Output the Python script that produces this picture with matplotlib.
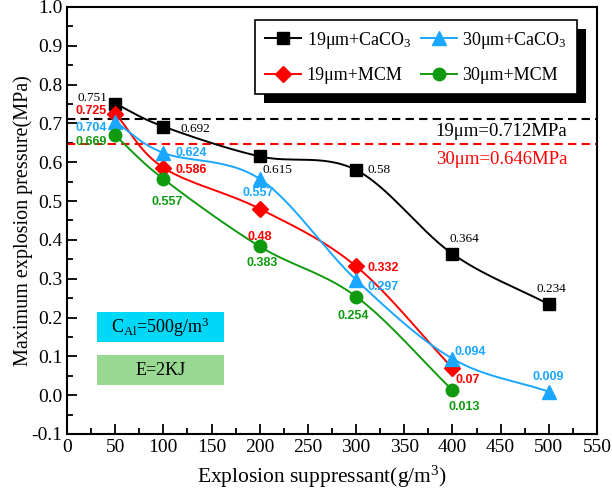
import matplotlib
matplotlib.use('Agg')
import matplotlib.pyplot as plt
from matplotlib.patches import Rectangle
from matplotlib.transforms import IdentityTransform
from matplotlib.ticker import MultipleLocator
import numpy as np

plt.rcParams['font.family'] = 'Liberation Serif'
plt.rcParams['mathtext.fontset'] = 'custom'
plt.rcParams['mathtext.rm'] = 'Liberation Serif'
plt.rcParams['mathtext.it'] = 'Liberation Serif:italic'

# datos
x_all = [50, 100, 200, 300, 400, 500]
x_mcm = [50, 100, 200, 300, 400]
ca19 = [0.751, 0.692, 0.615, 0.58, 0.364, 0.234]
ca30 = [0.704, 0.624, 0.557, 0.297, 0.094, 0.009]
mcm19 = [0.725, 0.586, 0.48, 0.332, 0.07]
mcm30 = [0.669, 0.557, 0.383, 0.254, 0.013]
ref19 = 0.712
ref30 = 0.646

black = '#000000'
red = '#ff0000'
blue = '#1aa7ff'
green = '#109a10'


def smooth(xs, ys, n=30):
    # curva Catmull-Rom que pasa por los puntos
    xs = np.asarray(xs, float)
    ys = np.asarray(ys, float)
    px = np.concatenate([[2 * xs[0] - xs[1]], xs, [2 * xs[-1] - xs[-2]]])
    py = np.concatenate([[2 * ys[0] - ys[1]], ys, [2 * ys[-1] - ys[-2]]])
    t = np.linspace(0, 1, n)
    ox, oy = [], []
    for i in range(1, len(px) - 2):
        for p, out in ((px, ox), (py, oy)):
            p0, p1, p2, p3 = p[i - 1], p[i], p[i + 1], p[i + 2]
            out.extend(0.5 * (2 * p1 + (-p0 + p2) * t
                              + (2 * p0 - 5 * p1 + 4 * p2 - p3) * t ** 2
                              + (-p0 + 3 * p1 - 3 * p2 + p3) * t ** 3))
    return ox, oy


fig = plt.figure(figsize=(6.12, 4.96), dpi=100)
ax = fig.add_axes([0.1095, 0.125, 0.866, 0.861])

series = [
    (x_all, ca19, black, 's', 9, '19μm+CaCO$_3$'),
    (x_mcm, mcm19, red, 'D', 8, '19μm+MCM'),
    (x_all, ca30, blue, '^', 10, '30μm+CaCO$_3$'),
    (x_mcm, mcm30, green, 'o', 9, '30μm+MCM'),
]
handles = []
for xs, ys, c, m, ms, lab in series:
    sx, sy = smooth(xs, ys)
    ax.plot(sx, sy, color=c, lw=1.4, zorder=3)
    ax.plot(xs, ys, ls='none', marker=m, ms=ms, color=c, zorder=4)
    h, = ax.plot([], [], color=c, lw=1.4, marker=m, ms=ms, label=lab)
    handles.append(h)

ax.axhline(ref19, color=black, lw=1.5, ls=(0, (4, 2.5)), zorder=2)
ax.axhline(ref30, color=red, lw=1.5, ls=(0, (4, 2.5)), zorder=2)
ax.text(519, 0.678, '19μm=0.712MPa', color=black, fontsize=13.5, ha='right', va='center')
ax.text(519, 0.606, '30μm=0.646MPa', color=red, fontsize=13.5, ha='right', va='center')

# etiquetas de valores: (dx, dy, ha) en pixeles
serif_lbl = dict(fontsize=9.5, family='Liberation Serif')
sans_lbl = dict(fontsize=9, family='Liberation Sans', fontweight='bold')
black_offsets = [(-8, 6, 'right'), (17, -2, 'left'), (3, -14, 'left'),
                 (11, 0, 'left'), (12, 15, 'center'), (3, 15, 'center')]
for xv, yv, (dx, dy, ha) in zip(x_all, ca19, black_offsets):
    ax.annotate(f'{yv:g}', (xv, yv), xytext=(dx, dy), textcoords='offset pixels',
                ha=ha, va='center', color=black, **serif_lbl)
red_offsets = [(-8, 3, 'right'), (12, -2, 'left'), (0, -28, 'center'),
               (11, -2, 'left'), (3, -12, 'left')]
for xv, yv, (dx, dy, ha) in zip(x_mcm, mcm19, red_offsets):
    ax.annotate(f'{yv:g}', (xv, yv), xytext=(dx, dy), textcoords='offset pixels',
                ha=ha, va='center', color=red, **sans_lbl)
blue_offsets = [(-8, -6, 'right'), (12, 0, 'left'), (-2, -14, 'center'),
                (11, -7, 'left'), (2, 7, 'left'), (-1, 15, 'center')]
for xv, yv, (dx, dy, ha) in zip(x_all, ca30, blue_offsets):
    ax.annotate(f'{yv:g}', (xv, yv), xytext=(dx, dy), textcoords='offset pixels',
                ha=ha, va='center', color=blue, **sans_lbl)
green_offsets = [(-8, -7, 'right'), (4, -23, 'center'), (2, -17, 'center'),
                 (-3, -19, 'center'), (12, -17, 'center')]
for xv, yv, (dx, dy, ha) in zip(x_mcm, mcm30, green_offsets):
    ax.annotate(f'{yv:g}', (xv, yv), xytext=(dx, dy), textcoords='offset pixels',
                ha=ha, va='center', color=green, **sans_lbl)

# cajas de condiciones
ax.add_patch(Rectangle((31, 0.137), 132, 0.077, facecolor='#00d8f8', edgecolor='none', zorder=2))
ax.text(97, 0.1755, 'C$_{\\rm Al}$=500g/m$^3$', fontsize=13, ha='center', va='center', zorder=3)
ax.add_patch(Rectangle((31, 0.026), 132, 0.077, facecolor='#98d890', edgecolor='none', zorder=2))
ax.text(97, 0.0645, 'E=2KJ', fontsize=13, ha='center', va='center', zorder=3)

ax.set_xlim(0, 550)
ax.set_ylim(-0.1, 1.0)
ax.xaxis.set_major_locator(MultipleLocator(50))
ax.xaxis.set_minor_locator(MultipleLocator(25))
ax.yaxis.set_major_locator(MultipleLocator(0.1))
ax.yaxis.set_minor_locator(MultipleLocator(0.05))
ax.yaxis.set_major_formatter(matplotlib.ticker.FormatStrFormatter('%.1f'))
ax.tick_params(which='both', direction='in', top=False, right=False, labelsize=14, width=1.3)
ax.tick_params(which='major', length=7)
ax.tick_params(which='minor', length=4)
for s in ax.spines.values():
    s.set_linewidth(1.5)
ax.set_xlabel('Explosion suppressant(g/m$^3$)', fontsize=15.5)
ax.xaxis.set_label_coords(0.481, -0.07)
ax.set_ylabel('Maximum explosion pressure(MPa)', fontsize=14.5)
ax.yaxis.set_label_coords(-0.064, 0.5)

leg = ax.legend(handles=handles, ncol=2, loc='upper right', bbox_to_anchor=(0.962, 0.970),
                borderaxespad=0, fontsize=13, frameon=True, fancybox=False, framealpha=1,
                edgecolor='black', handlelength=2.0, columnspacing=0.5, handletextpad=0.3,
                borderpad=0.55, labelspacing=0.9)
leg.get_frame().set_linewidth(1.2)
leg.set_zorder(6)

# sombra negra del cuadro de leyenda
fig.canvas.draw()
bb = leg.get_window_extent()
ax.add_patch(Rectangle((bb.x0 + 9, bb.y0 - 9), bb.width, bb.height, transform=IdentityTransform(),
                       facecolor='black', edgecolor='none', zorder=5.5, clip_on=False))

plt.savefig('out.png', dpi=100)
